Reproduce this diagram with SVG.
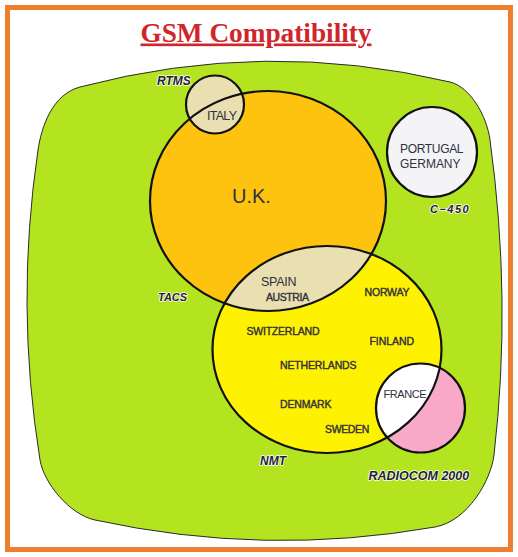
<svg xmlns="http://www.w3.org/2000/svg" width="518" height="557" viewBox="0 0 518 557">
<style>
.frame{fill:#fff;stroke:#ef7f2e;stroke-width:5}
.title{font-family:"Liberation Serif","Times New Roman",serif;font-weight:bold;font-size:26.5px;fill:#d0262b;text-decoration:underline}
.area{fill:#b4e31f;stroke:#2a2a2a;stroke-width:1}
.ol{fill:none;stroke:#111;stroke-width:2.2}
.c{font-family:"Liberation Sans",Arial,sans-serif;fill:#30303e}
.b{font-size:10.5px;stroke:#30303e;stroke-width:0.4}
.sys{font-family:"Liberation Sans",Arial,sans-serif;font-weight:bold;font-style:italic;fill:#22222e;stroke:#fff;stroke-width:1.6;paint-order:stroke;stroke-linejoin:round}
</style>
<defs>
<clipPath id="clipUK"><ellipse cx="268" cy="201" rx="118" ry="110"/></clipPath>
<clipPath id="clipNMT"><ellipse cx="327" cy="349.5" rx="114.5" ry="103.5"/></clipPath>
</defs>
<rect class="frame" x="7.5" y="7.5" width="503" height="542"/>
<text class="title" x="256" y="41.5" text-anchor="middle" textLength="231" lengthAdjust="spacingAndGlyphs">GSM Compatibility</text>

<g id="gsm-area">
<path class="area" d="M80,87 Q265,38 450,82 C470,87 486.6,115 490,140 Q512,300 494,455 C491,480 468,521 435,527 Q265,557 95,520 C69.5,514.5 43.75,483 40,460 Q15,305 38,150 C41.5,126.75 52.25,94.35 80,87 Z"/>
<text class="sys" x="157" y="85" font-size="12">RTMS</text>
<text class="sys" x="158" y="301" font-size="11">TACS</text>
<text class="sys" x="430" y="213.3" font-size="11" letter-spacing="1.5">C−450</text>
<text class="sys" x="260" y="465" font-size="12">NMT</text>
<text class="sys" x="368.5" y="480" font-size="12.5">RADIOCOM 2000</text>
</g>

<g id="uk">
<ellipse cx="268" cy="201" rx="118" ry="110" fill="#fec30f"/>
<text class="c" x="232" y="203" font-size="20">U.K.</text>
</g>

<g id="nmt">
<ellipse cx="327" cy="349.5" rx="114.5" ry="103.5" fill="#fff200"/>
<text class="c b" x="364.5" y="296" textLength="45">NORWAY</text>
<text class="c b" x="246.5" y="335" textLength="73">SWITZERLAND</text>
<text class="c b" x="369.5" y="345" textLength="44.5">FINLAND</text>
<text class="c b" x="280" y="369.3" textLength="76.5">NETHERLANDS</text>
<text class="c b" x="280" y="408.3" textLength="51.5">DENMARK</text>
<text class="c b" x="325" y="433.3" textLength="44.3">SWEDEN</text>
</g>

<g id="spain-austria">
<g clip-path="url(#clipUK)"><ellipse cx="327" cy="349.5" rx="114.5" ry="103.5" fill="#e9dfb0"/></g>
<text class="c" x="261" y="286" font-size="12.5" textLength="35.5">SPAIN</text>
<text class="c b" x="266" y="301" textLength="43">AUSTRIA</text>
</g>

<g id="france">
<circle cx="420.5" cy="408" r="44.5" fill="#f8a9c7"/>
<g clip-path="url(#clipNMT)"><circle cx="420.5" cy="408" r="44.5" fill="#fff"/></g>
<text class="c" x="383.5" y="398.3" font-size="11" textLength="43">FRANCE</text>
</g>

<g id="italy">
<circle cx="215" cy="104.5" r="29" fill="#e9dfb0" stroke="#111" stroke-width="2.2"/>
<text class="c" x="207" y="119.5" font-size="12.5" textLength="30">ITALY</text>
</g>

<g id="portugal-germany">
<circle cx="432" cy="152" r="45" fill="#f4f4f7" stroke="#111" stroke-width="2.2"/>
<text class="c" x="400" y="153.3" font-size="12" textLength="63.5">PORTUGAL</text>
<text class="c" x="400" y="168.3" font-size="12" textLength="60.5">GERMANY</text>
</g>

<g id="outlines">
<ellipse class="ol" cx="268" cy="201" rx="118" ry="110"/>
<ellipse class="ol" cx="327" cy="349.5" rx="114.5" ry="103.5"/>
<circle class="ol" cx="420.5" cy="408" r="44.5"/>
</g>
</svg>
